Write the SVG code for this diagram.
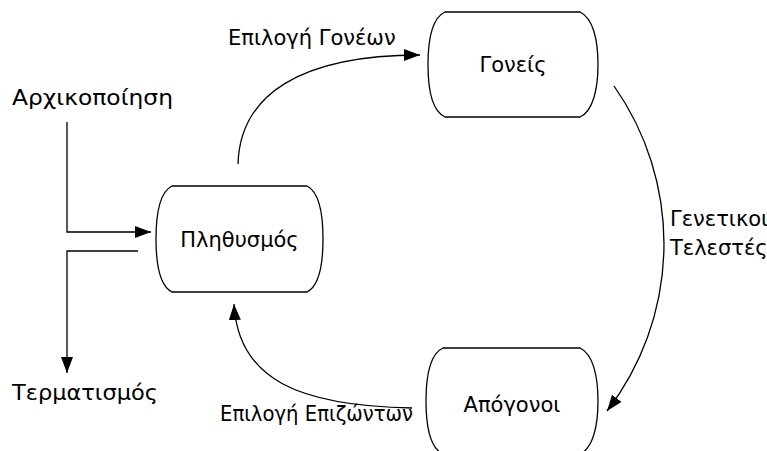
<svg xmlns="http://www.w3.org/2000/svg" width="767" height="451" viewBox="0 0 767 451">
  <style>
    .node { fill: #ffffff; stroke: #000000; stroke-width: 1.3; }
    .edge { fill: none; stroke: #000000; stroke-width: 1.3; }
    text { font-family: "DejaVu Sans", sans-serif; font-size: 21px; fill: #000000; }
    .c { text-anchor: middle; }
  </style>
  <defs>
    <marker id="arrow" markerUnits="userSpaceOnUse" markerWidth="17" markerHeight="13" refX="16" refY="6" orient="auto">
      <path d="M0,0 L16,6 L0,12 Z" fill="#000000"/>
    </marker>
  </defs>

  <rect width="767" height="451" fill="#ffffff"/>

  <!-- connectors -->
  <g id="connectors">
    <path class="edge" d="M67,122 V232 H151" marker-end="url(#arrow)"/>
    <path class="edge" d="M138,251 H67 V373" marker-end="url(#arrow)"/>
    <path class="edge" d="M238,164 C240,95 300,55 420,55" marker-end="url(#arrow)"/>
    <path class="edge" d="M614,86 A274,274 0 0 1 607,411" marker-end="url(#arrow)"/>
    <path class="edge" d="M412,408 C300,406 238,380 234,304" marker-end="url(#arrow)"/>
  </g>

  <!-- free labels -->
  <g id="labels">
    <text x="12" y="105" textLength="161" lengthAdjust="spacingAndGlyphs">Αρχικοποίηση</text>
    <text x="12" y="400" textLength="146" lengthAdjust="spacingAndGlyphs">Τερματισμός</text>
    <text x="228" y="45">Επιλογή Γονέων</text>
    <text x="670" y="226">Γενετικοι</text>
    <text x="670" y="255">Τελεστές</text>
    <text x="220" y="421" textLength="193" lengthAdjust="spacingAndGlyphs">Επιλογή Επιζώντων</text>
  </g>

  <!-- nodes -->
  <g id="population">
    <path class="node" d="M172,186 H307 C319,192 323,215 323,239 C323,263 319,286 307,292 H172 C160,286 156,263 156,239 C156,215 160,192 172,186 Z"/>
    <text class="c" x="239.5" y="247">Πληθυσμός</text>
  </g>
  <g id="parents">
    <path class="node" d="M445,12 H580 C593,18 598,40 598,64.5 C598,89 593,111 580,117 H445 C432,111 428,89 428,64.5 C428,40 432,18 445,12 Z"/>
    <text class="c" x="513" y="72">Γονείς</text>
  </g>
  <g id="offspring">
    <path class="node" d="M443,348 H580 C593,354 598,376 598,401 C598,426 593,448 580,454 H443 C430,448 426,426 426,401 C426,376 430,354 443,348 Z"/>
    <text class="c" x="512" y="412">Απόγονοι</text>
  </g>
</svg>
